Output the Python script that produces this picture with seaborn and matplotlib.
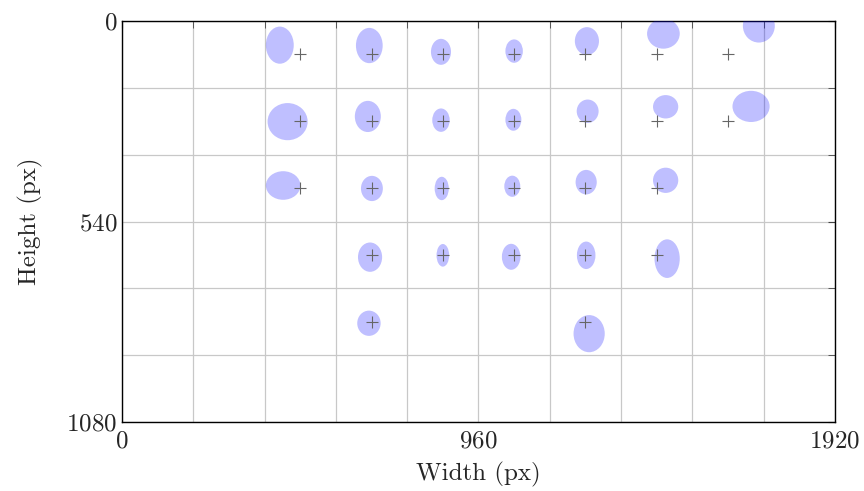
import numpy as np
import pandas as pd
import matplotlib
matplotlib.use("Agg")
import matplotlib.pyplot as plt
import seaborn as sns
from matplotlib.patches import Ellipse
from matplotlib.ticker import MultipleLocator

# target points (crosses)
target_x = [480, 672, 864, 1056, 1248, 1440, 1632,
            480, 672, 864, 1056, 1248, 1440, 1632,
            480, 672, 864, 1056, 1248, 1440,
            672, 864, 1056, 1248, 1440,
            672, 1248]
target_y = [90] * 7 + [270] * 7 + [450] * 6 + [630] * 5 + [810] * 2

# measured gaze ellipses: centre and spread (px)
mean_x = [425, 666, 859, 1056, 1252, 1458, 1715,
          446, 662, 859, 1054, 1254, 1464, 1694,
          434, 673, 861, 1051, 1250, 1464,
          668, 864, 1048, 1250, 1468,
          665, 1258]
mean_y = [65, 66, 83, 81, 54, 34, 13,
          271, 257, 267, 266, 243, 231, 230,
          443, 451, 451, 445, 434, 429,
          636, 631, 635, 631, 640,
          814, 842]
spread_x = [75, 72, 54, 47, 65, 88, 86,
            108, 70, 47, 43, 59, 68, 100,
            93, 59, 38, 43, 57, 68,
            65, 34, 50, 50, 68,
            63, 84]
spread_y = [100, 95, 70, 63, 75, 81, 90,
            100, 84, 63, 59, 63, 63, 84,
            77, 68, 63, 57, 66, 68,
            79, 61, 70, 74, 104,
            68, 100]

sns.set_style("white")
plt.rcParams['font.family'] = 'serif'
plt.rcParams['font.serif'] = ['cmr10', 'DejaVu Serif']
plt.rcParams['mathtext.fontset'] = 'cm'
plt.rcParams['axes.formatter.use_mathtext'] = True

fig = plt.figure(figsize=(8.64, 4.91), dpi=100)
ax = fig.add_axes([0.1412, 0.1405, 0.8252, 0.8167])

for cx, cy, w, h in zip(mean_x, mean_y, spread_x, spread_y):
    ax.add_patch(Ellipse((cx, cy), w, h, facecolor='blue', alpha=0.25,
                         edgecolor='none', zorder=3))

targets = pd.DataFrame({'x': target_x, 'y': target_y})
sns.scatterplot(data=targets, x='x', y='y', marker='+', s=70, color='#666666',
                linewidth=0.8, zorder=4, ax=ax)

ax.set_xlim(0, 1920)
ax.set_ylim(1080, 0)
ax.xaxis.set_major_locator(MultipleLocator(960))
ax.xaxis.set_minor_locator(MultipleLocator(192))
ax.yaxis.set_major_locator(MultipleLocator(540))
ax.yaxis.set_minor_locator(MultipleLocator(180))
ax.grid(True, which='both', color='#c8c8c8', linewidth=0.9, zorder=0)
ax.set_axisbelow(True)
ax.tick_params(which='both', direction='in', top=True, right=True,
               labelsize=18, color='#444444')
ax.tick_params(which='major', length=5)
ax.tick_params(axis='x', which='major', pad=6)
ax.tick_params(which='minor', length=5)
for s in ax.spines.values():
    s.set_color('black')
    s.set_linewidth(1.0)

ax.set_xlabel('Width (px)', fontsize=18, labelpad=7)
ax.set_ylabel('Height (px)', fontsize=18, labelpad=17)

fig.savefig('out.png', dpi=100)
